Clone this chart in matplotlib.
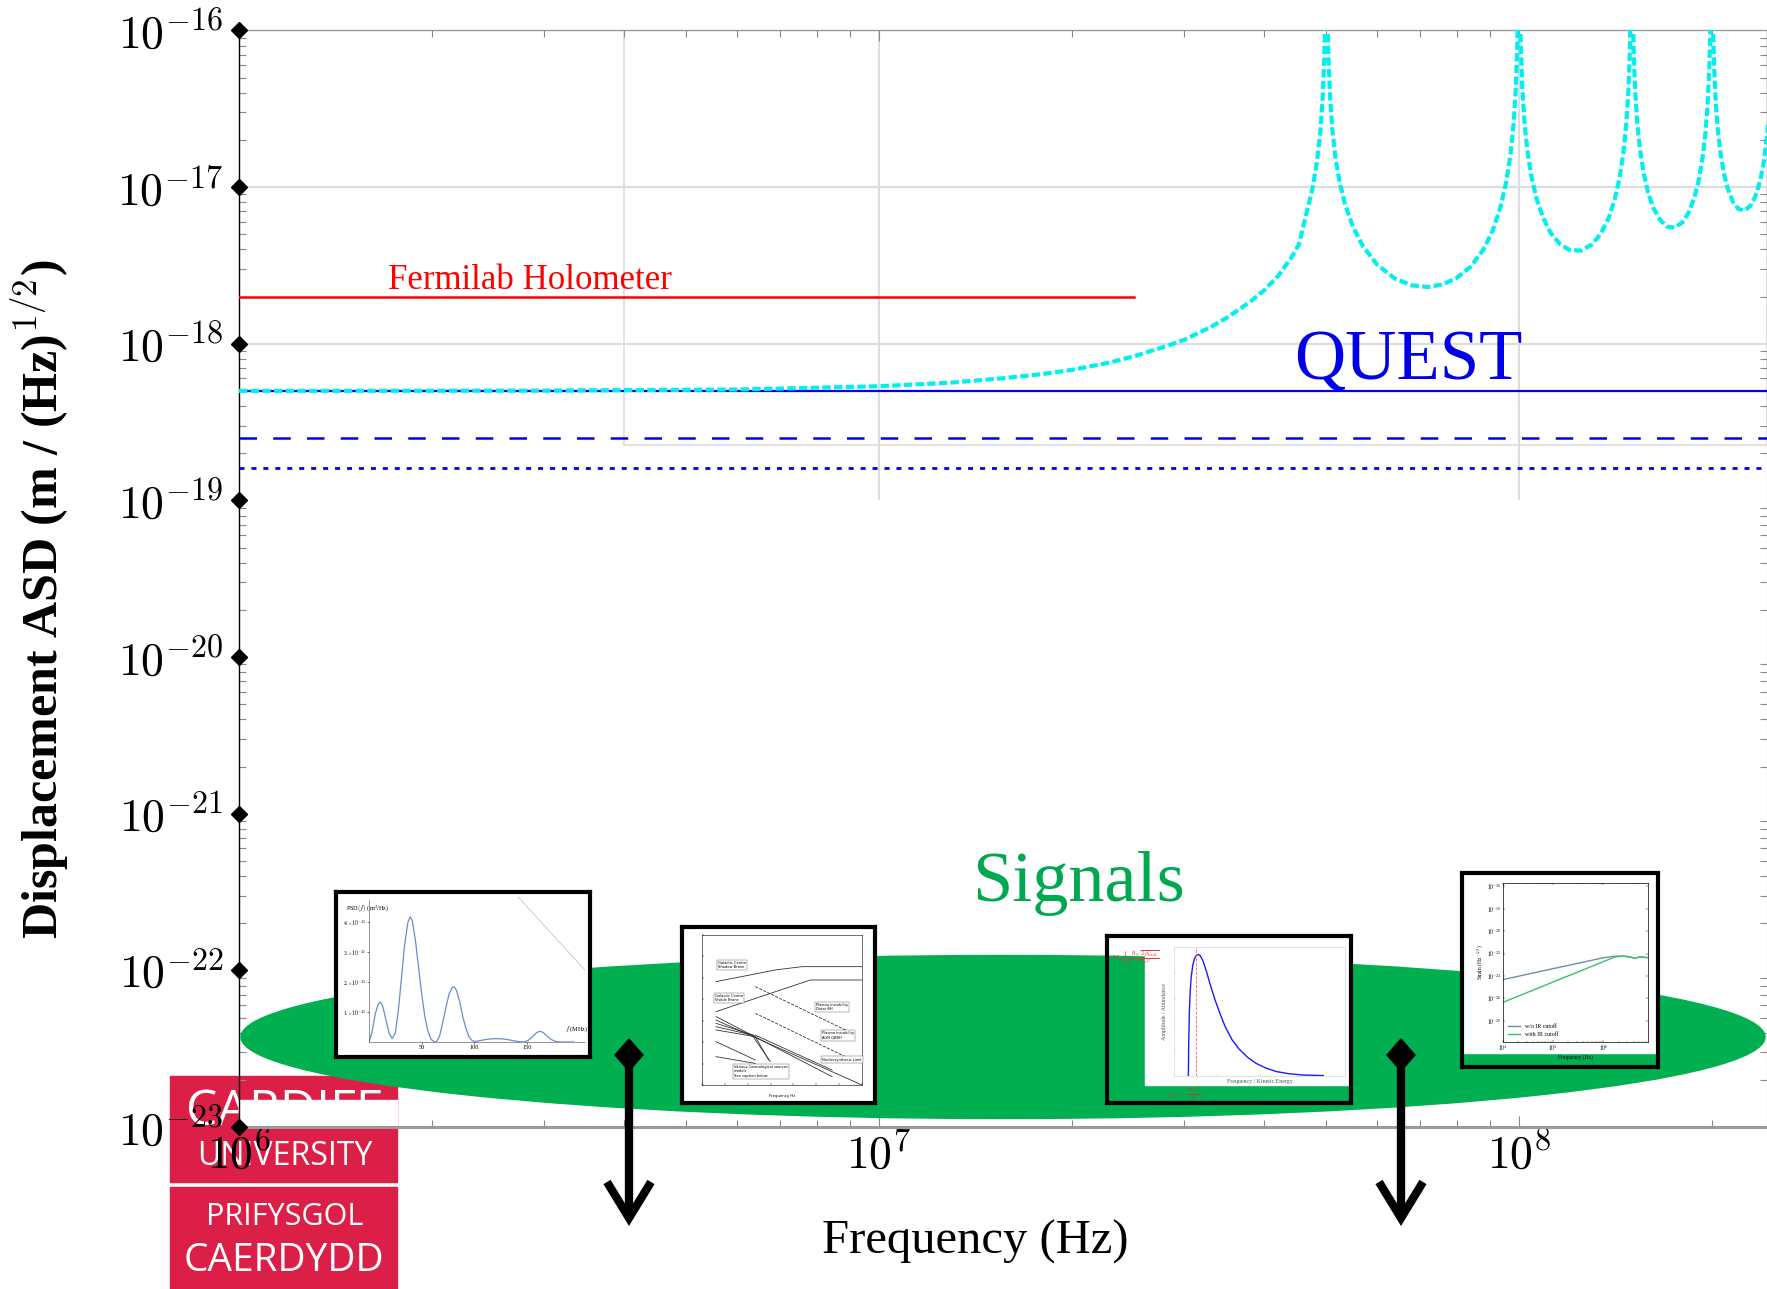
import matplotlib
matplotlib.use('Agg')
import numpy as np
import matplotlib.pyplot as plt
from matplotlib.patches import Ellipse, Rectangle, Polygon
from matplotlib.lines import Line2D
from matplotlib.ticker import NullFormatter

plt.rcParams['mathtext.fontset'] = 'cm'
plt.rcParams['font.family'] = ['Liberation Serif', 'DejaVu Serif']

# ---------------- data ----------------
x_limits = (1e6, 2.44e8)
y_limits = (1e-23, 1e-16)
ytick_values = [1e-23, 1e-22, 1e-21, 1e-20, 1e-19, 1e-18, 1e-17, 1e-16]
ytick_labels = [r'$10^{-23}$', r'$10^{-22}$', r'$10^{-21}$', r'$10^{-20}$',
                r'$10^{-19}$', r'$10^{-18}$', r'$10^{-17}$', r'$10^{-16}$']
xtick_values = [1e6, 1e7, 1e8]
xtick_labels = [r'$10^{6}$', r'$10^{7}$', r'$10^{8}$']

holometer_freq = [1e6, 2.5e7]
holometer_asd = [2e-18, 2e-18]
quest_freq = [1e6, 2.44e8]
quest_solid_asd = [5e-19, 5e-19]
quest_dashed_asd = [2.5e-19, 2.5e-19]
quest_dotted_asd = [1.6e-19, 1.6e-19]

cavity_freq_mhz = [1, 3, 6, 10, 13, 15.5, 18, 20, 23, 25, 28, 30, 33, 35, 38, 40, 42, 44, 45.3,
                   46.5, 47.5, 48.3, 48.9, 49.3, 49.6, 49.8, 50,
                   50.2, 50.4, 50.7, 51.1, 51.7, 52.5, 53.5, 55, 57, 60, 64, 68, 72, 76, 80, 84,
                   88, 91, 93.5, 95.5, 97, 98, 98.8, 99.4, 99.7, 100,
                   100.3, 100.6, 101.2, 102, 103, 104.5, 106.5, 109, 112, 116, 120, 125, 130, 134,
                   138, 141, 143.5, 145.5, 147, 148.2, 149, 149.6, 150,
                   150.4, 151, 151.8, 153, 154.5, 156.5, 159, 162, 166, 170, 175, 180, 184, 188,
                   191, 193.5, 195.5, 197, 198.2, 199, 199.5, 200,
                   200.5, 201, 201.8, 203, 204.5, 206.5, 209, 212, 216, 220, 225, 230, 234, 238,
                   241, 244, 246]
cavity_asd = [5.0e-19, 5.02e-19, 5.1e-19, 5.35e-19, 5.65e-19, 6.0e-19, 6.4e-19, 6.8e-19, 7.6e-19,
              8.3e-19, 9.6e-19, 1.06e-18, 1.28e-18, 1.47e-18, 1.85e-18, 2.2e-18, 2.7e-18, 3.5e-18,
              4.3e-18, 6.7e-18, 9.5e-18, 1.42e-17, 2.2e-17, 3.5e-17, 6.2e-17, 1.24e-16, 1e-14,
              1.26e-16, 6.3e-17, 3.6e-17, 2.3e-17, 1.5e-17, 1.05e-17, 7.7e-18, 5.6e-18, 4.2e-18,
              3.2e-18, 2.6e-18, 2.36e-18, 2.3e-18, 2.39e-18, 2.64e-18, 3.1e-18,
              4.0e-18, 5.3e-18, 7.4e-18, 1.08e-17, 1.63e-17, 2.46e-17, 4.1e-17, 8.3e-17, 1.66e-16, 1e-14,
              1.67e-16, 8.4e-17, 4.2e-17, 2.56e-17, 1.73e-17, 1.18e-17, 8.4e-18, 6.4e-18, 5.1e-18,
              4.3e-18, 3.96e-18, 3.93e-18, 4.3e-18, 5.0e-18,
              6.3e-18, 8.3e-18, 1.13e-17, 1.64e-17, 2.47e-17, 4.1e-17, 7.45e-17, 1.87e-16, 1e-14,
              1.88e-16, 7.55e-17, 4.2e-17, 2.57e-17, 1.74e-17, 1.24e-17, 9.3e-18, 7.4e-18, 6.2e-18,
              5.6e-18, 5.5e-18, 5.95e-18, 6.85e-18, 8.6e-18,
              1.12e-17, 1.53e-17, 2.2e-17, 3.3e-17, 5.5e-17, 1e-16, 2e-16, 1e-14,
              2e-16, 1e-16, 5.6e-17, 3.4e-17, 2.3e-17, 1.63e-17, 1.22e-17, 9.7e-18, 8.0e-18, 7.27e-18,
              7.07e-18, 7.6e-18, 8.7e-18, 1.09e-17, 1.41e-17, 2.1e-17, 3.1e-17]

# inset 1 : PSD thumbnail
psd_freq_mhz = [0, 3, 6, 9, 11, 13, 16, 19, 22, 25, 28, 31, 34, 37, 39, 41, 44, 47, 50, 53,
                56, 59, 62, 64, 67, 70, 73, 76, 79, 81, 83, 86, 89, 92, 95, 98, 101, 106, 112, 118,
                124, 130, 136, 142, 147, 151, 155, 159, 162, 165, 169, 173, 178, 182, 188, 194]
psd_value = [0, 0.35, 0.95, 1.28, 1.33, 1.2, 0.75, 0.3, 0.11, 0.3, 1.1, 2.2, 3.3, 4.0, 4.17,
             4.05, 3.4, 2.5, 1.6, 0.85, 0.35, 0.08, 0.01, 0.0, 0.2, 0.65, 1.15, 1.6, 1.82, 1.83,
             1.72, 1.35, 0.85, 0.45, 0.17, 0.04, 0.02, 0.05, 0.09, 0.11, 0.11, 0.09, 0.05, 0.01,
             0.0, 0.05, 0.17, 0.31, 0.36, 0.32, 0.2, 0.08, 0.01, 0.0, 0.0, 0.0]
psd_yticks = [1, 2, 3, 4]
psd_ytick_labels = [r'1.$\times10^{-45}$', r'2.$\times10^{-45}$', r'3.$\times10^{-45}$', r'4.$\times10^{-45}$']
psd_xticks = [50, 100, 150]

# inset 3 : amplitude / abundance thumbnail (normalised units)
abund_x = [0.084, 0.086, 0.09, 0.095, 0.10, 0.11, 0.12, 0.13, 0.142, 0.155, 0.17, 0.19, 0.21,
           0.24, 0.27, 0.30, 0.34, 0.38, 0.43, 0.48, 0.54, 0.60, 0.67, 0.75, 0.873]
abund_y = [0.0, 0.25, 0.5, 0.66, 0.76, 0.86, 0.91, 0.935, 0.943, 0.93, 0.89, 0.81, 0.716, 0.59,
           0.48, 0.38, 0.28, 0.21, 0.145, 0.098, 0.06, 0.034, 0.018, 0.008, 0.003]

# inset 4 : strain thumbnail
strain_freq = [1e4, 1e5, 1e6, 1.7e6, 2.5e6, 3.5e6, 4.3e6, 5.2e6, 6.5e6, 7.7e6]
strain_no_cut = [4.7e-25, 4.5e-24, 4.2e-23, 5.8e-23, 5.9e-23, 4.8e-23, 3.7e-23, 5.1e-23, 4.6e-23, 4.3e-23]
strain_cut = [4.4e-27, 2.9e-25, 1.9e-23, 5.0e-23, 5.9e-23, 4.8e-23, 3.7e-23, 5.1e-23, 4.6e-23, 4.3e-23]
strain_yticks = [1e-28, 1e-26, 1e-24, 1e-22, 1e-20, 1e-18, 1e-16]
strain_ytick_labels = [r'$10^{-28}$', r'$10^{-26}$', r'$10^{-24}$', r'$10^{-22}$',
                       r'$10^{-20}$', r'$10^{-18}$', r'$10^{-16}$']
strain_xticks = [1e4, 1e5, 1e6]
strain_xtick_labels = [r'$10^{4}$', r'$10^{5}$', r'$10^{6}$']

# ---------------- figure ----------------
W, H = 1767, 1289
fig = plt.figure(figsize=(W / 100, H / 100), dpi=100)


def fx(x):
    return x / W


def fy(y):
    return 1 - y / H


def fbox(x0, y0, x1, y1):
    return [x0 / W, 1 - y1 / H, (x1 - x0) / W, (y1 - y0) / H]


ax = fig.add_axes(fbox(239, 30.4, 1767, 1127), zorder=2)
ax.set_facecolor('none')
ax.set_xscale('log')
ax.set_yscale('log')
ax.set_xlim(*x_limits)
ax.set_ylim(*y_limits)

grid_c = '#dcdcdc'
ax.hlines([1e-17, 1e-18], x_limits[0], x_limits[1], color=grid_c, lw=1.5, zorder=0.5)
ax.vlines([1e7, 1e8], 1e-19, 1e-16, color=grid_c, lw=1.5, zorder=0.5)
ax.add_patch(Rectangle((4e6, 2.26e-19), x_limits[1] - 4e6, 1e-16 - 2.26e-19,
                       fill=False, edgecolor=grid_c, lw=1.2, zorder=0.5))

ax.plot(holometer_freq, holometer_asd, color='red', lw=1.8, zorder=3)
ax.plot(quest_freq, quest_solid_asd, color='#0000ee', lw=1.6, zorder=3)
ax.plot(quest_freq, quest_dashed_asd, color='#0000ee', lw=1.8, dashes=(7, 6.5), zorder=3)
ax.plot(quest_freq, quest_dotted_asd, color='#0000ee', lw=2.0, dashes=(1.8, 2.5), zorder=3)
ax.plot(np.array(cavity_freq_mhz) * 1e6, cavity_asd, color='#00f0f0', lw=3.0,
        dashes=(2, 0.8), zorder=4)

ax.text(1.71e6, 2.24e-18, 'Fermilab Holometer', color='red', fontsize=25,
        ha='left', va='baseline')
ax.text(4.45e7, 5.87e-19, 'QUEST', color='#0000e6', fontsize=51, ha='left', va='baseline')
ax.text(2.05e7, 2.78e-22, 'Signals', color='#00a84f', fontsize=52, ha='center', va='baseline')

ax.set_xticks(xtick_values)
ax.set_xticklabels(xtick_labels, fontsize=33)
ax.set_yticks(ytick_values)
ax.set_yticklabels(ytick_labels, fontsize=33)
ax.xaxis.set_minor_formatter(NullFormatter())
ax.yaxis.set_minor_formatter(NullFormatter())
ax.tick_params(which='both', direction='in', color='#888888', top=True, right=True)
ax.tick_params(which='minor', length=5, width=0.8)
ax.tick_params(axis='x', which='major', length=8, width=0.8, pad=4)
ax.tick_params(axis='y', which='major', length=0, pad=11)
ax.plot([0] * len(ytick_values), ytick_values, 'D', ms=8, color='black',
        transform=ax.get_yaxis_transform(), clip_on=False, zorder=6)

ax.spines['left'].set_color('black')
ax.spines['left'].set_linewidth(1.0)
ax.spines['bottom'].set_color('#9a9a9a')
ax.spines['bottom'].set_linewidth(2.2)
ax.spines['top'].set_color('#9a9a9a')
ax.spines['top'].set_linewidth(1.0)
ax.spines['right'].set_color('#9a9a9a')

fig.text(fx(975), fy(1254), 'Frequency (Hz)', fontsize=35, ha='center', va='baseline')
fig.text(fx(40), fy(599), r'Displacement ASD (m / (Hz)$^{1/2}$)', fontsize=36,
         fontweight='bold', rotation=90, ha='center', va='center')

# ---------------- Cardiff logo ----------------
logo_red = '#dc1f47'
fig.add_artist(Rectangle((fx(170), fy(1182)), 227 / W, 106 / H, transform=fig.transFigure,
                         color=logo_red, zorder=1))
fig.add_artist(Rectangle((fx(170), fy(1289)), 227 / W, 102 / H, transform=fig.transFigure,
                         color=logo_red, zorder=1))
fig.text(fx(284), fy(1125), 'CARDIFF', color='white', fontsize=36, family='Open Sans',
         ha='center', va='baseline', zorder=1.1)
fig.text(fx(285), fy(1165), 'UNIVERSITY', color='white', fontsize=23, family='Open Sans',
         ha='center', va='baseline', zorder=1.1)
fig.text(fx(285), fy(1225), 'PRIFYSGOL', color='white', fontsize=22, family='Open Sans',
         ha='center', va='baseline', zorder=1.1)
fig.text(fx(284), fy(1271), 'CAERDYDD', color='white', fontsize=28, family='Open Sans',
         ha='center', va='baseline', zorder=1.1)
fig.add_artist(Rectangle((fx(240), fy(1126)), 157 / W, 26 / H, transform=fig.transFigure,
                         color='white', zorder=1.5))

# ---------------- green ellipse ----------------
fig.add_artist(Ellipse((fx(1003), fy(1037)), 1524 / W, 163 / H, transform=fig.transFigure,
                       color='#00b050', zorder=3))


# ---------------- thumbnails ----------------
def frame_axes(x0, y0, x1, y1, face):
    a = fig.add_axes(fbox(x0, y0, x1, y1), zorder=4)
    a.set_xticks([])
    a.set_yticks([])
    a.set_xlim(0, 1)
    a.set_ylim(0, 1)
    a.set_facecolor(face)
    for s in a.spines.values():
        s.set_linewidth(3.0)
        s.set_color('black')
    return a


# inset 1
f1 = frame_axes(336, 892, 590, 1057, 'white')
f1.plot([0.717, 0.98], [0.97, 0.527], color='#9db09d', lw=0.4)
f1.text(0.04, 0.93, r'PSD$(f)$ (m$^2$/Hz)', fontsize=4.5, va='top')
i1 = fig.add_axes(fbox(369, 900, 585, 1042), zorder=5)
i1.set_facecolor('none')
i1.plot(psd_freq_mhz, psd_value, color='#6a8ccc', lw=0.9)
i1.set_xlim(0, 205)
i1.set_ylim(0, 4.73)
i1.set_xticks(psd_xticks)
i1.set_xticklabels([str(v) for v in psd_xticks], fontsize=4.5)
i1.set_yticks(psd_yticks)
i1.set_yticklabels(psd_ytick_labels, fontsize=4)
i1.tick_params(length=1.5, width=0.4, pad=1)
for s in ['top', 'right']:
    i1.spines[s].set_visible(False)
for s in ['left', 'bottom']:
    i1.spines[s].set_linewidth(0.4)
    i1.spines[s].set_color('#444444')
i1.text(0.96, 0.08, r'$f$ (MHz)', transform=i1.transAxes, fontsize=4.5, ha='center')

# inset 2
f2 = frame_axes(682, 927, 875, 1103, 'white')
i2 = fig.add_axes(fbox(702, 935, 862, 1085), zorder=5)
i2.set_facecolor('none')
i2.set_xlim(0, 1)
i2.set_ylim(0, 1)
i2.set_xticks([0.0, 0.143, 0.286, 0.429, 0.571, 0.714, 0.857, 1.0])
i2.set_yticks([0.0, 0.143, 0.286, 0.429, 0.571, 0.714, 0.857, 1.0])
i2.set_xticklabels([])
i2.set_yticklabels([])
i2.tick_params(length=1.2, width=0.3, direction='in')
for s in i2.spines.values():
    s.set_linewidth(0.4)
lines2 = [
    ([0.0875, 0.4583, 0.625, 1.0], [0.689, 0.767, 0.789, 0.789], '-'),
    ([0.0875, 0.677, 1.0], [0.489, 0.70, 0.70], '-'),
    ([0.333, 0.917], [0.656, 0.356], '--'),
    ([0.333, 0.917], [0.478, 0.178], '--'),
    ([0.0875, 0.8125], [0.456, 0.056], '-'),
    ([0.0875, 1.0], [0.433, 0.0], '-'),
    ([0.0875, 0.354, 0.8125], [0.411, 0.322, 0.10], '-'),
    ([0.0875, 0.3125, 0.427], [0.389, 0.333, 0.156], '-'),
    ([0.0875, 0.333, 0.417], [0.367, 0.322, 0.167], '-'),
    ([0.0875, 0.333], [0.289, 0.167], '-'),
    ([0.0875, 0.333], [0.189, 0.144], '-'),
]
for xs, ys, ls in lines2:
    i2.plot(xs, ys, color='#333333', lw=0.6, ls=ls)
box_kw = dict(boxstyle='square,pad=0.3', fc='white', ec='#555555', lw=0.3)
for tx, ty, tt in [(0.10, 0.80, 'Galactic Centre\nShadow Brane'),
                   (0.08, 0.58, 'Galactic Centre\nVisible Brane'),
                   (0.71, 0.52, 'Plasma instability\nDetar BH'),
                   (0.75, 0.33, 'Plasma instability\nAGN QBBH'),
                   (0.75, 0.17, 'Nucleosynthesis Limit'),
                   (0.20, 0.09, 'Various Cosmological sources\nmodels\nSee caption below')]:
    i2.text(tx, ty, tt, fontsize=2.6, family='DejaVu Sans', va='center', bbox=box_kw)
i2.text(0.5, -0.06, 'Frequency Hz', fontsize=2.8, family='DejaVu Sans', ha='center', va='top')

# inset 3
f3 = frame_axes(1107, 936, 1351, 1103, 'none')
f3.add_patch(Rectangle((0.156, 0.108), 0.832, 0.868, color='white', zorder=0.5))
i3 = fig.add_axes(fbox(1174, 947, 1345, 1076), zorder=5)
i3.set_facecolor('none')
i3.set_xlim(0, 1)
i3.set_ylim(0, 1)
i3.plot(abund_x, abund_y, color='#1a1aff', lw=1.0)
i3.axvline(0.127, color='#ff6060', lw=0.6, ls='--')
i3.set_xticks([0.25, 0.5, 0.75])
i3.set_yticks([0.2, 0.4, 0.6, 0.8])
i3.set_xticklabels([])
i3.set_yticklabels([])
i3.tick_params(length=1.2, width=0.3, direction='in', color='#bbbbbb')
for s in i3.spines.values():
    s.set_linewidth(0.4)
    s.set_color('#cccccc')
i3.text(0.5, -0.02, 'Frequency / Kinetic Energy', transform=i3.transAxes, fontsize=4.2,
        ha='center', va='top', color='#555555')
i3.text(-0.04, 0.5, 'Amplitude / Abundance', transform=i3.transAxes, fontsize=4.2,
        ha='right', va='center', rotation=90, color='#555555')
fig.text(fx(1110), fy(960), r'$\propto\frac{1}{\Lambda_{\gamma\phi}}\frac{\hbar\sqrt{2\rho_{\rm local}}}{m_\phi c}$',
         fontsize=6.5, color='#ee3333', zorder=6)
fig.text(fx(1168), fy(1097), r'$\omega_\phi=\frac{m_\phi c^2}{\hbar}$', fontsize=6,
         color='#cc3333', zorder=6)

# inset 4
f4 = frame_axes(1462, 873, 1658, 1067, 'none')
f4.add_patch(Rectangle((0.0, 0.072), 1.0, 0.928, color='white', zorder=0.5))
i4 = fig.add_axes(fbox(1503, 883, 1648, 1042), zorder=5)
i4.set_facecolor('none')
i4.set_xscale('log')
i4.set_yscale('log')
i4.set_xlim(1e4, 7.7e6)
i4.set_ylim(10 ** -29.9, 10 ** -15.7)
i4.plot(strain_freq, strain_no_cut, color='#6f8fa6', lw=1.0, label='w/o IR cutoff')
i4.plot(strain_freq, strain_cut, color='#3cc070', lw=1.0, label='with IR cutoff')
i4.set_xticks(strain_xticks)
i4.set_xticklabels(strain_xtick_labels, fontsize=4)
i4.set_yticks(strain_yticks)
i4.set_yticklabels(strain_ytick_labels, fontsize=4)
i4.xaxis.set_minor_formatter(NullFormatter())
i4.tick_params(which='both', length=1.5, width=0.3, direction='in', pad=1, top=True, right=True)
i4.tick_params(which='minor', length=0.8)
for s in i4.spines.values():
    s.set_linewidth(0.5)
i4.legend(loc='lower left', fontsize=4.2, frameon=False, handlelength=2)
i4.set_ylabel(r'Strain (Hz$^{-1/2}$)', fontsize=4, labelpad=1)
i4.set_xlabel('Frequency (Hz)', fontsize=4, labelpad=1)

# ---------------- arrows ----------------
for xa in [629, 1401]:
    fig.add_artist(Line2D([fx(xa), fx(xa)], [fy(1062), fy(1216)], lw=6, color='black',
                          transform=fig.transFigure, zorder=6, solid_capstyle='butt'))
    fig.add_artist(Line2D([fx(xa - 22), fx(xa), fx(xa + 22)], [fy(1182), fy(1218), fy(1182)],
                          lw=6, color='black', transform=fig.transFigure, zorder=6,
                          solid_joinstyle='miter', solid_capstyle='butt'))
    fig.add_artist(Polygon([(fx(xa), fy(1039)), (fx(xa + 14), fy(1055)),
                            (fx(xa), fy(1071)), (fx(xa - 14), fy(1055))],
                           closed=True, color='black', transform=fig.transFigure, zorder=6))

fig.savefig('out.png', dpi=100)
